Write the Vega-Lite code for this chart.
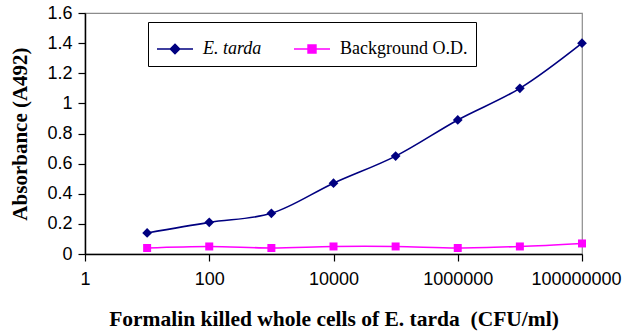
{
  "$schema": "https://vega.github.io/schema/vega-lite/v6.json",
  "width": 497,
  "height": 241,
  "autosize": {"type": "none"},
  "padding": {"left": 85, "top": 13, "right": 40, "bottom": 79},
  "background": "white",
  "config": {
    "view": {"stroke": "#8c8c8c", "strokeWidth": 1.2},
    "axis": {
      "grid": false,
      "domainColor": "#000",
      "domainWidth": 1.5,
      "tickColor": "#000",
      "tickWidth": 1.2,
      "tickSize": 7,
      "labelFont": "Liberation Sans",
      "labelFontSize": 18,
      "labelColor": "#000",
      "titleFont": "Liberation Serif",
      "titleFontSize": 21,
      "titleFontWeight": "bold",
      "titleColor": "#000"
    }
  },
  "data": {
    "values": [
      {"cfu": 10, "od": 0.14, "series": "E. tarda"},
      {"cfu": 100, "od": 0.21, "series": "E. tarda"},
      {"cfu": 1000, "od": 0.27, "series": "E. tarda"},
      {"cfu": 10000, "od": 0.47, "series": "E. tarda"},
      {"cfu": 100000, "od": 0.65, "series": "E. tarda"},
      {"cfu": 1000000, "od": 0.89, "series": "E. tarda"},
      {"cfu": 10000000, "od": 1.10, "series": "E. tarda"},
      {"cfu": 100000000, "od": 1.40, "series": "E. tarda"},
      {"cfu": 10, "od": 0.04, "series": "Background O.D."},
      {"cfu": 100, "od": 0.05, "series": "Background O.D."},
      {"cfu": 1000, "od": 0.04, "series": "Background O.D."},
      {"cfu": 10000, "od": 0.05, "series": "Background O.D."},
      {"cfu": 100000, "od": 0.05, "series": "Background O.D."},
      {"cfu": 1000000, "od": 0.04, "series": "Background O.D."},
      {"cfu": 10000000, "od": 0.05, "series": "Background O.D."},
      {"cfu": 100000000, "od": 0.07, "series": "Background O.D."}
    ]
  },
  "encoding": {
    "x": {
      "field": "cfu",
      "type": "quantitative",
      "scale": {"type": "log", "domain": [1, 100000000]},
      "axis": {
        "values": [1, 100, 10000, 1000000, 100000000],
        "format": "d",
        "labelFlush": false,
        "labelOverlap": false,
        "labelPadding": 9,
        "labelOffset": {"condition": {"test": "datum.value >= 100000000", "value": -6}, "value": 0},
        "title": "Formalin killed whole cells of E. tarda \u00a0(CFU/ml)",
        "titleFontSize": 21.5,
        "titlePadding": 20
      }
    },
    "y": {
      "field": "od",
      "type": "quantitative",
      "scale": {"domain": [0, 1.6]},
      "axis": {
        "values": [0, 0.2, 0.4, 0.6, 0.8, 1, 1.2, 1.4, 1.6],
        "format": ".1~f",
        "labelPadding": 6,
        "title": "Absorbance (A492)",
        "titlePadding": 16
      }
    },
    "color": {
      "field": "series",
      "type": "nominal",
      "scale": {"domain": ["E. tarda", "Background O.D."], "range": ["#000080", "#ff00ff"]},
      "legend": {
        "orient": "none",
        "legendX": 63,
        "legendY": 9,
        "direction": "horizontal",
        "title": null,
        "strokeColor": "#000",
        "fillColor": "white",
        "padding": 8,
        "columnPadding": 29,
        "labelFont": "Liberation Serif",
        "labelFontSize": 18,
        "labelColor": "#000",
        "labelOffset": 9,
        "labelFontStyle": {"expr": "datum.label === 'E. tarda' ? 'italic' : 'normal'"},
        "symbolSize": 1296,
        "symbolStrokeWidth": 1.5,
        "symbolFillColor": {"expr": "datum.label === 'E. tarda' ? '#000080' : '#ff00ff'"},
        "symbolStrokeColor": {"expr": "datum.label === 'E. tarda' ? '#000080' : '#ff00ff'"},
        "symbolType": {"expr": "datum.label === 'E. tarda' ? 'M-1,0L1,0M0,-0.26L0.26,0L0,0.26L-0.26,0Z' : 'M-1,0L1,0M-0.22,-0.22L0.22,-0.22L0.22,0.22L-0.22,0.22Z'"}
      }
    }
  },
  "layer": [
    {"mark": {"type": "line", "interpolate": "catmull-rom", "strokeWidth": 1.6}},
    {
      "transform": [{"filter": "datum.series === 'E. tarda'"}],
      "mark": {"type": "point", "shape": "diamond", "filled": true, "opacity": 1, "size": 95}
    },
    {
      "transform": [{"filter": "datum.series === 'Background O.D.'"}],
      "mark": {"type": "point", "shape": "square", "filled": true, "opacity": 1, "size": 64}
    }
  ]
}
